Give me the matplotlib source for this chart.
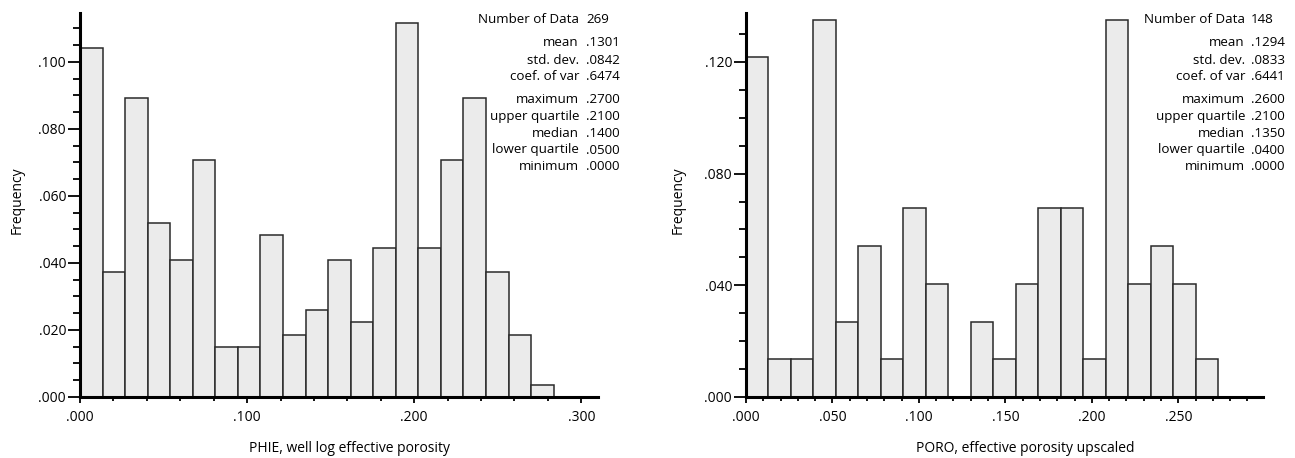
import matplotlib
matplotlib.use("Agg")
import matplotlib.pyplot as plt
from matplotlib.ticker import MultipleLocator, FuncFormatter
import numpy as np

# ---------------- data ----------------
phie_bin_width = 0.0135
phie_freq = [0.1041, 0.0372, 0.0892, 0.0520, 0.0409, 0.0706, 0.0149, 0.0149,
             0.0483, 0.0186, 0.0260, 0.0409, 0.0223, 0.0446, 0.1115, 0.0446,
             0.0706, 0.0892, 0.0372, 0.0186, 0.0037]

poro_bin_width = 0.013
poro_freq = [0.1216, 0.0135, 0.0135, 0.1351, 0.0270, 0.0541, 0.0135, 0.0676,
             0.0405, 0.0000, 0.0270, 0.0135, 0.0405, 0.0676, 0.0676, 0.0135,
             0.1351, 0.0405, 0.0541, 0.0405, 0.0135]

stat_labels = ["Number of Data", "mean", "std. dev.", "coef. of var",
               "maximum", "upper quartile", "median", "lower quartile", "minimum"]
phie_stats = ["269", ".1301", ".0842", ".6474", ".2700", ".2100", ".1400", ".0500", ".0000"]
poro_stats = ["148", ".1294", ".0833", ".6441", ".2600", ".2100", ".1350", ".0400", ".0000"]

phie_xlabel = "PHIE, well log effective porosity"
poro_xlabel = "PORO, effective porosity upscaled"
ylabel = "Frequency"

# ---------------- style ----------------
W, H = 1295, 458
plt.rcParams['font.family'] = ['Open Sans', 'DejaVu Sans']
fig = plt.figure(figsize=(W / 100, H / 100), dpi=100)

bar_face = "#ebebeb"
bar_edge = "#2a2a2a"
FS = 10

def fmt(v, pos):
    s = f"{v:.3f}"
    return s[1:] if s.startswith("0") else s

def make_axes(rect, freq, width, xlim, ylim, xmaj, xmin, ymaj, ymin, xlabel,
              xlab_pos, ylab_pos):
    ax = fig.add_axes(rect)
    n = len(freq)
    lefts = np.arange(n) * width
    ax.bar(lefts, freq, width=width, align="edge", color=bar_face,
           edgecolor=bar_edge, linewidth=1.1, zorder=2)
    ax.set_xlim(*xlim)
    ax.set_ylim(*ylim)
    for s in ("top", "right"):
        ax.spines[s].set_visible(False)
    for s in ("left", "bottom"):
        ax.spines[s].set_linewidth(2.2)
        ax.spines[s].set_zorder(3)
    ax.xaxis.set_major_locator(MultipleLocator(xmaj))
    ax.xaxis.set_minor_locator(MultipleLocator(xmin))
    ax.yaxis.set_major_locator(MultipleLocator(ymaj))
    ax.yaxis.set_minor_locator(MultipleLocator(ymin))
    ax.xaxis.set_major_formatter(FuncFormatter(fmt))
    ax.yaxis.set_major_formatter(FuncFormatter(fmt))
    ax.tick_params(axis="y", which="major", direction="out", length=9,
                   width=1.3, pad=1, labelsize=FS)
    ax.tick_params(axis="y", which="minor", direction="out", length=5, width=1.3)
    ax.tick_params(axis="x", which="major", direction="out", length=4.5,
                   width=1.3, pad=5, labelsize=FS)
    ax.tick_params(axis="x", which="minor", direction="out", length=3, width=1.3)
    ax.set_xlabel(xlabel, fontsize=FS)
    ax.xaxis.set_label_coords(*xlab_pos)
    ax.set_ylabel(ylabel, fontsize=FS)
    ax.yaxis.set_label_coords(*ylab_pos)
    return ax

bottom = 1 - 397 / H
# left axes
l_left, l_right, l_top = 80, 598, 13
ax1 = make_axes([l_left / W, bottom, (l_right - l_left) / W, (397 - l_top) / H],
                phie_freq, phie_bin_width, (0, 0.310), (0, 0.1146),
                0.1, 0.02, 0.02, 0.005, phie_xlabel,
                (0.521, -0.115), (-0.107, 0.513))
# right axes
r_left, r_right, r_top = 746, 1263, 13
ax2 = make_axes([r_left / W, bottom, (r_right - r_left) / W, (397 - r_top) / H],
                poro_freq, poro_bin_width, (0, 0.299), (0, 0.1375),
                0.05, 0.01, 0.04, 0.01, poro_xlabel,
                (0.54, -0.115), (-0.116, 0.513))

# statistics text
row_y = [19.3, 42.7, 60, 76.7, 99.3, 116.7, 133.3, 150, 166.7]
for lab_x, val_x, vals in ((579, 586, phie_stats), (1245, 1251, poro_stats)):
    for lab, val, y in zip(stat_labels, vals, row_y):
        fig.text(lab_x / W, 1 - y / H, lab, ha="right", va="center", fontsize=9.6)
        fig.text(val_x / W, 1 - y / H, val, ha="left", va="center", fontsize=9.6)

fig.savefig("out.png", dpi=100)
